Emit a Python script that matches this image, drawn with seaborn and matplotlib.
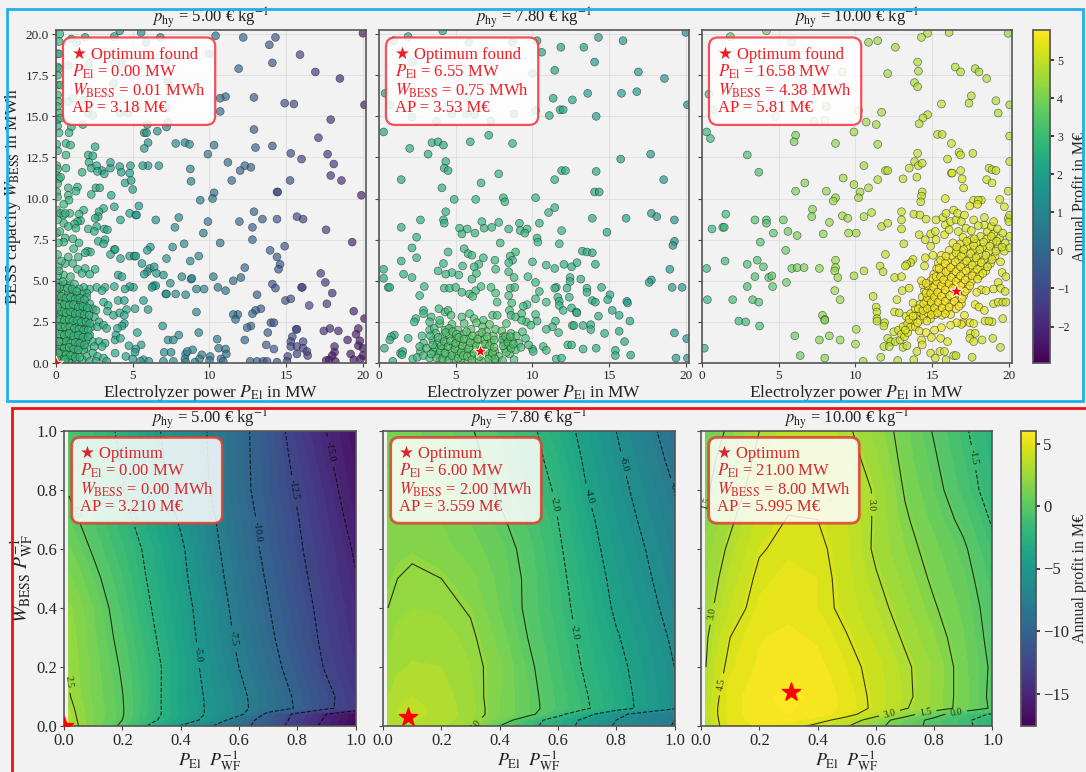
import matplotlib
matplotlib.use("Agg")
import matplotlib.pyplot as plt
import pandas as pd
import seaborn as sns
from matplotlib.cm import ScalarMappable
from matplotlib.colors import Normalize
from matplotlib.patches import Rectangle

# Titik sampel: (P_El, W_BESS, AP)
samples_5 = [
(10.4,19.9,.2),(12.2,19.8,-.2),(13.9,19.35,-.6),(14.3,19.8,-.6),(15.9,18.75,-1.2),(14.1,18.25,-.7),(11.9,17.9,-.1),(16.9,17.7,-1.5),(18.5,17.3,-2),(20,20.05,-2.5),
(11.05,16.2,0),(10.7,16.1,.1),(10.7,15.3,.1),(12.9,16.15,-.5),(14.9,15.8,-.9),(15.5,15.75,-1),(17.9,14.8,-1.8),(20.1,15.7,-2.4),(12.9,14.2,-.5),(17.1,13.7,-1.5),
(14.1,13.2,-.7),(13,13.1,-.4),(10.3,13.25,.3),(9.9,12.7,.4),(15.3,12.75,-1),(16,12.4,-1.2),(17.7,12.7,-1.7),(18.1,12.1,-1.8),(11.2,12.2,.1),(12.3,12,-.2),
(12.7,11.9,-.3),(12,11.7,-.1),(17.9,11.4,-1.7),(18.6,11.1,-1.9),(15.25,11.1,-.9),(11.45,11.1,0),(14.4,10.4,-.8),(14.45,10.4,-.8),(10.3,10.35,.4),(10.2,10,.4),(9.4,9.9,.6),(19.9,10.2,-2.3),
(12.9,9.2,-.3),(13.45,8.75,-.4),(14.4,8.75,-.7),(15.7,8.9,-1),(16.1,8.75,-1.1),(11.95,8.6,-.1),(9.9,8.6,.5),(12.8,8.25,-.3),(17.6,8.1,-1.6),(9.6,7.9,.6),
(12.8,7.5,-.2),(10.7,7.3,.3),(19.3,7.35,-2.1),(14.9,7.1,-.7),(13.95,6.85,-.5),(14.4,6.45,-.6),(14.6,6,-.7),(14.5,5.7,-.6),(12.3,5.8,-.1),(10.25,5.25,.5),
(12.05,5.2,0),(11.55,5,.1),(17.25,5.45,-1.5),(17.55,4.9,-1.6),(14.1,4.8,-.5),(14.3,4.55,-.6),(16,4.6,-1.1),(16.05,4.6,-1.1),(10.55,4.6,.4),(11.05,4.4,.2),(18,4.25,-1.8),(13.1,4.15,-.3),
(14.95,3.8,-.7),(15.3,3.9,-.8),(17.65,3.6,-1.6),(16.5,3.5,-1.2),(13.35,3.3,-.4),(13,3.2,-.3),(12.8,3,-.2),(19.4,3.15,-2.2),(11.85,2.95,0),(11.55,2.95,.1),(11.7,2.65,0),
(20.1,2.7,-2.5),(12.7,2.25,-.2),(12.45,2.15,-.1),(14,2.45,-.6),(14.2,2.45,-.6),(15.65,2.05,-1.1),(15.7,2.05,-1.1),(17.45,1.95,-1.8),(17.85,2.1,-1.9),(18.4,1.95,-2),(19.7,2.1,-2.4),
(19.55,1.75,-2.4),(19,1.4,-2.3),(13.8,1.85,-.5),(15.4,1.6,-1),(12.3,1.4,-.1),(10.5,1.45,.5),(13.7,1.1,-.5),(14.2,.85,-.6),(15.3,1.3,-1),(15.3,1,-1),
(16.1,1.3,-1.2),(15.7,1,-1.2),(16.1,.9,-1.3),(16.35,.7,-1.3),(15.7,.55,-1.3),(16.4,.45,-1.4),(18.15,1,-2.1),(18.15,.65,-2.2),(18,.45,-2.3),(17.8,.2,-2.4),
(18.2,.1,-2.5),(17.6,.15,-2.4),(19.2,.55,-2.4),(19.8,1.35,-2.5),(19.7,1.05,-2.5),(20,.9,-2.5),(20,.45,-2.6),(19.4,.2,-2.6),(19.85,.25,-2.6),(12.65,.1,-.3),(13.1,.1,-.4),(13.5,.1,-.6),
(13.75,.1,-.7),(14.4,.05,-.8),(15.1,.4,-1),(15.05,.1,-1.1),(10.6,.9,.4),(11.05,.85,.3),(11.1,.55,.2),(10.75,.25,.2),(10.9,.1,.1),(10.05,.4,.5),(10,.15,.4),
(8.75,11.8,1),(8.8,11.05,1),(8.4,13.4,1),(8.7,13.3,1),(7.8,13.35,1.2),(6.7,12,1.5),(6,12,1.6),(5.65,12,1.7),(6.6,14.1,1.4),(7.2,14.35,1.2),(7.3,14.65,1.2),(5.75,14,1.6),(5.9,14,1.6),(5.95,14.5,1.5),(6,13.4,1.6),(5.75,13.05,1.7),
(10,18.8,.3),(5.85,19.5,1.4),(6.8,19.8,1.1),(5.55,20.1,1.4),(4.15,20.2,1.8),(3.8,19.85,1.9),(1.9,19.8,2.3),(1,19.7,2.5),(.25,20,2.7),(.2,19.55,2.7),(1.35,19.5,2.4),
(2.15,18.2,2.3),(3.85,18.2,1.9),(4.3,18.2,1.8),(3.75,17,1.9),(7.3,17.1,1.1),(7.45,16.8,1.1),(7.2,18.45,1.1),(6.2,18.65,1.3),(.8,18.1,2.5),(2.1,15.2,2.3),(2.4,15.05,2.3),(4.15,15.2,1.9),(4.7,15.2,1.8),(.8,15.9,2.6),(1.1,16.1,2.5),(1.8,16,2.4),(5.25,15.5,1.7),(7.2,15.5,1.2),
(1,14.35,2.6),(1.75,14.5,2.4),(.85,14,2.6),(.65,13.35,2.7),(.95,13.25,2.6),(.65,12.65,2.7),(.65,11.85,2.7),(1.7,11.6,2.5),(2.55,13.15,2.3),(2.1,12.65,2.4),(2.4,12.6,2.3),(2.15,12.2,2.4),(2.3,11.85,2.4),(2.65,12,2.3),(3,11.7,2.2),(2.7,11.65,2.3),(3.15,11.5,2.2),(3.55,11.85,2.1),(3.55,12.2,2.1),(4.15,11.95,2),(4.25,11.6,2),(4.8,11.55,1.9),(4.85,12,1.9),(4.5,10.95,2),(4.9,11.1,1.9),(5,10.55,1.9),(5.4,9.55,1.8),(3.6,10.2,2.2),(2.3,10.25,2.5),(2.6,10.65,2.4),(2.85,10.65,2.3),(1.4,10.7,2.6),(1.3,10.45,2.6),(.8,10.65,2.7),(.8,10.2,2.7),(.85,9.9,2.7),(.5,9.65,2.8),
(.1,18.8,2.7),(.2,18.8,2.7),(.1,18,2.7),(.2,17.9,2.7),(.1,17.5,2.7),(.1,16.9,2.8),(.3,16.9,2.7),(.1,16.3,2.8),(.15,15.9,2.8),(.1,15.6,2.8),(.2,15.2,2.8),(.1,14.8,2.8),(.3,14.9,2.7),(.1,14.4,2.8),(.2,14,2.8),(.05,13.3,2.8),(.1,12.9,2.8),(.05,12,2.9),(.1,11.8,2.9),(.05,11.4,2.9),(.2,11.2,2.8),(.1,10.9,2.9),(.3,11.3,2.8),(.05,10.4,2.9),(.1,10.1,2.9),(.05,9.3,2.9),(.3,9.1,2.9),(.5,9,2.8),
(3.8,9.5,2.1),(3.1,9.4,2.3),(2.8,9.2,2.4),(1.8,9.3,2.6),(1.5,9.05,2.6),(.9,9.1,2.7),(.6,9.1,2.8),(4.8,9.1,2),(5.2,9,1.9),(5.25,9,1.9),(6.5,8.7,1.6),(8,8.85,1.2),(7.75,8.25,1.3),(4.2,8.7,2.1),(2.75,8.9,2.4),(2.55,8.8,2.4),(1.6,8.65,2.6),(1.4,8.6,2.6),(1.2,8.45,2.7),(.5,8.5,2.8),(.8,8.3,2.7),(1.3,8.2,2.7),(2.1,8.15,2.5),(2.65,8.3,2.4),(3.15,8.15,2.3),(3.35,8.1,2.2),(2.5,8,2.4),(.6,7.6,2.8),(1.1,7.55,2.7),(2.75,7.4,2.4),(3.2,7.5,2.3),(3.1,7.25,2.3),(1.5,7.3,2.6),(.5,7.35,2.8),
(3.8,6.9,2.2),(3.85,6.9,2.2),(7.6,7.05,1.4),(6.15,7.05,1.7),(5.95,6.85,1.8),(8.35,7.25,1.2),(7.2,6.35,1.5),(3.55,6.6,2.2),(4.2,6.35,2.1),(4.8,6.5,2),(5.1,6.5,1.9),(5.2,6.5,1.9),(5.6,6.05,1.8),(8.75,6.2,1.1),(9.3,6.5,1),(6.1,5.75,1.7),(6.4,5.85,1.6),(5.95,5.55,1.8),(5.75,5.4,1.8),(6.55,5.45,1.6),(7,5.35,1.5),(8.2,5.25,1.2),(8.8,5.1,1.1),(8.85,5.15,1.1),
(2.05,6.8,2.6),(2.25,6.75,2.5),(1.9,6.7,2.6),(1.15,6.95,2.7),(.8,6.45,2.8),(1.45,6.45,2.7),(.6,6.05,2.8),(1.1,6.05,2.7),(1.9,5.75,2.6),(2.55,5.7,2.5),(1.4,5.7,2.7),(1.7,5.45,2.6),(2.2,5.4,2.5),(.15,5.85,2.9),(.5,5.35,2.9),(.95,5.25,2.8),(4.05,5.35,2.1),(4.3,5.25,2.1),
(7.45,4.85,1.4),(6.35,4.7,1.7),(6.5,4.7,1.6),(6.25,4.6,1.7),(7.15,4.2,1.5),(7.2,4.2,1.5),(7.8,4.2,1.3),(8.45,4.15,1.2),(9.15,4.5,1),(9.65,4.5,.9),(5.05,4.6,2),(4.8,4.65,2),(4.5,4.5,2.1),(3.8,4.65,2.2),(3.2,4.6,2.4),(2.65,4.6,2.5),(3,4.4,2.4),(2.2,4.5,2.6),(1.8,4.6,2.6),(2,4.25,2.6),
(5.7,3.8,1.8),(5.15,3.3,2),(6,3.25,1.7),(4.05,3.8,2.2),(4.45,3.8,2.1),(3.1,3.7,2.4),(3.4,3.5,2.3),(3.35,3.15,2.3),(4.6,3.25,2.1),(9.15,3.1,1),(3.75,2.9,2.3),(4.15,3.05,2.2),(4.45,2.9,2.1),(4.45,2.4,2.1),(4.3,2.25,2.1),(4,2.1,2.2),(3.9,1.7,2.2),(3.85,1.4,2.2),(4.2,1.5,2.2),(6.95,2.25,1.5),(5.3,1.85,1.9),(8,1.7,1.2),(9.3,1.85,.9),(7.3,1.4,1.4),(7.65,1.4,1.3),(5.55,1.1,1.8),(4.75,1.05,2),(5.2,.85,1.9),(5.15,.65,1.9),(7.05,.65,1.4),(7.5,.65,1.3),(3.85,.6,2.2),(4.55,.4,2),(5,.25,1.9),(5.7,.2,1.7),(5.5,.1,1.8),(6.05,.1,1.6),(7,.1,1.3),(7.65,.1,1.2),(8.45,.55,1),(8.9,.8,.9),(8.55,.7,1),(8.4,.25,1),(8.45,.05,1),(9.5,.5,.7),(9.35,.25,.7),(9.05,.05,.8),
(.1,4.9,2.9),(.3,4.7,2.9),(.6,4.8,2.9),(.9,4.7,2.8),(1.2,4.8,2.8),(1.5,4.5,2.7),(.2,4.3,3),(.5,4.2,2.9),(.8,4.3,2.9),(1.1,4.2,2.8),(1.4,4.1,2.8),(1.7,4.2,2.7),(2,4,2.6),
(.1,3.9,3),(.4,3.8,3),(.7,3.7,2.9),(1,3.8,2.9),(1.3,3.6,2.8),(1.6,3.7,2.7),(1.9,3.5,2.7),(2.2,3.6,2.6),(2.4,3.3,2.6),(.2,3.4,3),(.5,3.3,3),(.8,3.2,2.9),(1.1,3.3,2.9),(1.4,3.1,2.8),(1.7,3.2,2.8),(2,3.1,2.7),(2.6,3.2,2.6),(.1,3,3),
(.3,2.9,3),(.6,2.8,3),(.9,2.9,2.9),(1.2,2.7,2.9),(1.5,2.8,2.8),(1.8,2.7,2.7),(2.1,2.6,2.7),(2.5,2.8,2.6),(2.8,2.5,2.5),(.15,2.5,3.1),(.45,2.4,3),(.75,2.5,3),(1.05,2.3,2.9),(1.35,2.4,2.8),(1.65,2.2,2.8),(1.95,2.3,2.7),(2.3,2.2,2.6),(2.7,2.2,2.5),(3.1,2.3,2.4),(3.3,2.1,2.4),
(.1,2,3.1),(.4,1.9,3),(.7,2,3),(1,1.8,2.9),(1.3,1.9,2.9),(1.6,1.7,2.8),(1.9,1.8,2.7),(2.2,1.7,2.7),(.2,1.5,3.1),(.5,1.4,3),(.8,1.6,3),(1.1,1.4,2.9),(1.4,1.5,2.8),(1.7,1.3,2.8),(2,1.4,2.7),(2.4,1.3,2.6),(2.8,1.3,2.5),(3.2,1.2,2.4),(.1,1.1,3.1),(.4,1,3.1),(.7,1.1,3),(1,.9,2.9),(1.3,1,2.9),(1.6,1,2.8),(2,.9,2.7),(2.5,1,2.6),(3,1,2.5),
(.2,.8,3.1),(.5,.7,3),(.8,.7,3),(1.1,.6,2.9),(1.4,.5,2.8),(1.8,.8,2.7),(2,.4,2.7),(2.4,.6,2.6),(2.7,.4,2.5),(3.1,.3,2.4),(.1,.5,3.1),(.4,.4,3.1),(.7,.3,3),(1,.2,2.9),(1.3,.1,2.8),(1.7,.2,2.7),(2.2,.1,2.6),(2.6,.1,2.5),(.15,.15,3.1),(.5,.1,3),(.85,.05,2.9),(3.3,.1,2.3),
(.25,4.6,3),(.45,4.95,2.9),(.75,4.55,2.9),(1.05,4.5,2.8),(1.35,4.35,2.8),(.05,4.1,3),(.35,4.05,3),(.65,3.95,2.9),(.95,4,2.9),(1.25,3.9,2.8),(1.55,3.95,2.7),(1.85,3.85,2.7),(.25,3.6,3),(.55,3.55,3),(.85,3.5,2.9),(1.15,3.55,2.9),(1.45,3.4,2.8),(1.75,3.45,2.7),(2.05,3.35,2.7),(.05,3.25,3.1),(.35,3.15,3),(.65,3.05,3),(.95,3.1,2.9),(1.25,3,2.9),(1.55,3,2.8),(1.85,2.95,2.7),(2.15,2.9,2.7),
(.25,2.65,3),(.55,2.6,3),(.85,2.65,2.9),(1.1,2.55,2.9),(1.4,2.6,2.8),(1.65,2.5,2.8),(1.95,2.5,2.7),(2.2,2.4,2.7),(.05,2.25,3.1),(.3,2.2,3),(.6,2.2,3),(.9,2.2,2.9),(1.2,2.1,2.9),(1.5,2.05,2.8),(1.8,2,2.7),(2.1,2,2.7),(.25,1.75,3),(.55,1.7,3),(.85,1.8,3),(1.15,1.65,2.9),(1.45,1.7,2.8),(1.75,1.55,2.8),(2.1,1.6,2.7),
(.05,1.3,3.1),(.35,1.25,3.1),(.65,1.3,3),(.95,1.2,2.9),(1.25,1.25,2.9),(1.55,1.2,2.8),(1.85,1.1,2.7),(.25,.95,3.1),(.55,.9,3),(.85,.95,3),(1.15,.85,2.9),(1.45,.8,2.8),(.05,.7,3.1),(.35,.55,3.1),(.65,.5,3),(.95,.45,2.9),(1.25,.35,2.9),(1.55,.35,2.8),(.3,.25,3.1),(.6,.2,3),(.05,.3,3.1),(.15,.6,3.1),(.2,1.3,3.1),(.1,3.4,3),(.05,4.6,3),(.1,5.3,2.9),(.2,5.6,2.9),(.35,6.2,2.9),(.1,6.6,2.9),(.15,7.3,2.9),(.05,7.9,2.9),(.25,8,2.9),(.1,8.7,2.9),
]

samples_78 = [
(1.9,19.85,2.2),(4.15,20.2,2.3),(14.3,19.8,2),(15.9,19.6,1.8),(20,20.1,1.2),(.95,19.6,2),(5.85,19.5,2.3),(8.7,19.5,2.3),(10.3,19.6,2.2),(10.6,18.9,2.2),(11.85,19.2,2.1),(13.35,19.2,2),(14.05,18.3,2),(2.2,18.3,2.2),(11.45,17.8,2.2),(16.9,17.7,1.7),(18.6,17.3,1.5),(10,17.6,2.3),
(.4,16.4,2),(5.75,16.2,2.4),(16.8,16.5,1.8),(13.6,16.4,2.1),(15.8,16.4,1.9),(11.35,16.1,2.3),(12.6,16,2.2),(20.1,15.7,1.3),(.7,15.7,2.1),(10.2,15.35,2.4),(11.8,15.4,2.3),(12,15.4,2.3),(11.1,15.05,2.3),(14.15,15,2),(2.15,14.95,2.3),(4.75,15.15,2.4),(5.7,15.15,2.4),(6.25,15.1,2.4),(8.8,15.15,2.4),(3.75,14.7,2.4),(7.3,14.7,2.4),
(.3,14.05,2.1),(7.15,13.85,2.5),(3.45,13.4,2.4),(3.85,13.45,2.4),(4.2,13.25,2.4),(5.95,13.45,2.5),(8.7,13.35,2.5),(2,13.05,2.4),(3.2,12.7,2.4),(17.7,12.7,1.7),(15.75,12.4,2),(4.35,12.25,2.5),(4.25,11.85,2.5),(4.5,11.7,2.5),(7.8,11.5,2.6),(11.9,11.7,2.5),(12.15,11.7,2.5),(14.15,11.65,2.2),(1.45,11.15,2.3),(11.45,11.15,2.5),(18.55,11.15,1.6),(6.65,10.95,2.6),(4.1,10.65,2.5),
(14.05,10.4,2.2),(14.35,10.4,2.2),(4.9,9.95,2.6),(6.3,9.95,2.7),(8.1,10.05,2.7),(8.2,9.8,2.7),(10.2,10.05,2.6),(11.45,9.45,2.6),(11.05,9.15,2.6),(4.35,9.2,2.6),(17.75,9.1,1.8),(18.1,8.9,1.7),(16.1,8.8,2),(13.9,8.8,2.3),(19.25,8.7,1.5),(2.7,8.7,2.5),(4.2,8.7,2.6),(4.25,8.5,2.6),(6.7,8.6,2.7),(7.8,8.55,2.7),(9.15,8.5,2.7),(10.45,8.5,2.6),
(1.45,8.25,2.4),(5.25,8.2,2.7),(5.75,8.15,2.7),(6.85,8.2,2.7),(7.35,8.25,2.7),(8.45,8.15,2.7),(9.2,8.05,2.7),(9.65,8.15,2.7),(9.5,7.9,2.7),(11.9,8.05,2.6),(14.85,7.95,2.2),(5.4,7.85,2.7),(6.25,7.9,2.7),(2.45,7.65,2.5),(10.3,7.6,2.7),(10.35,7.35,2.7),(19.25,7.4,1.6),(19.15,7.15,1.6),(11.75,7.25,2.6),(7.9,7.3,2.8),
(2.15,7,2.5),(5.55,6.95,2.8),(5.8,6.65,2.8),(6.05,6.55,2.8),(4.5,6.75,2.7),(8.9,6.75,2.8),(8.55,6.5,2.8),(13.25,6.8,2.4),(13.55,6.75,2.4),(13.9,6.7,2.3),(2.45,6.4,2.6),(6.8,6.4,2.8),(7.55,6.25,2.8),(8.7,6.25,2.8),(8.45,6.1,2.8),(1.45,6.2,2.4),(4.2,6.05,2.7),(5.45,5.9,2.8),(6.5,6,2.8),(6.2,5.85,2.8),(7.6,5.7,2.8),(10,6.15,2.8),(10.9,5.95,2.7),(11.45,5.75,2.6),(12.05,6,2.6),(12.55,5.85,2.5),(12.9,6.1,2.5),(14.1,6,2.3),
(.3,5.7,2.3),(3.85,5.6,2.7),(4.75,5.5,2.8),(4.35,5.4,2.7),(5.2,5.35,2.8),(1.6,5.4,2.5),(6.35,5.45,2.9),(6.05,5.1,2.9),(8.45,5.55,2.9),(8.8,5.2,2.9),(.3,5.15,2.3),(2.15,5.2,2.6),(9.7,5.25,2.8),(12.45,5.2,2.6),(12.45,4.95,2.6),(13.15,5.1,2.5),(18.95,5.7,1.7),(17.75,5.05,1.9),(17.6,4.9,1.9),(19.1,4.6,1.7),(19.75,4.6,1.6),(.6,4.6,2.4),(.7,4.6,2.4),(2.95,4.65,2.7),
(4.25,4.55,2.8),(4.6,4.55,2.8),(5,4.6,2.9),(5.4,4.3,2.9),(5.9,4.2,2.9),(6.3,4.4,3),(6.65,4.65,3),(6.1,4.05,3),(7.3,4.6,3),(7.6,4.25,3),(8.55,4.55,2.9),(8.85,4.6,2.9),(8.45,4.1,3),(10.2,4.9,2.8),(10.45,4.35,2.8),(10.2,3.9,2.8),(11.55,4.6,2.7),(11.45,4.55,2.7),(12.25,4.55,2.6),(13.55,4.55,2.5),(13.55,4.3,2.5),(14.5,4.6,2.3),(15.05,4.15,2.2),(14.9,3.85,2.3),(13.9,3.8,2.4),(14.1,3.7,2.4),(12.4,4,2.6),(11.65,4,2.7),(11.75,3.75,2.7),(10.9,3.7,2.8),(2.65,4.1,2.7),(7.7,3.7,3),(8.65,3.65,3),(9.65,3.55,2.9),(9.4,3.45,2.9),(16.15,3.75,2.1),(16.2,3.65,2),(11.75,3.5,2.7),(12,3.2,2.7),(12.55,3.35,2.6),(12.85,3.1,2.6),(12.9,3.05,2.5),(15.2,3.2,2.2),(15.65,2.9,2.2),(14.3,2.85,2.4),(16.35,2.55,2.1),
(10.2,2.95,2.9),(10.3,2.55,2.8),(11.5,2.55,2.8),(11.3,2.2,2.8),(10.9,2.05,2.8),(11.7,1.85,2.8),(12.6,2.28,2.7),(12.7,2.28,2.7),(13.3,2.28,2.6),(13.8,2.33,2.5),(13.8,2.03,2.5),(14.7,1.8,2.4),(15.65,1.93,2.3),(16,1.3,2.2),(12.3,1.1,2.8),(12.55,1.1,2.7),(13.3,.85,2.6),(14.15,.9,2.5),(15.4,.77,2.4),(15.4,.45,2.4),(16.4,.48,2.2),(11.55,.25,2.8),(11.9,.3,2.7),(10.7,1,2.9),(10.9,.77,2.9),(10,.85,2.9),(10.05,.7,2.9),(19.25,1.83,1.8),(20.05,1.48,1.6),(20.1,.3,1.6),(19.35,.3,1.7),
(2.4,2.7,2.7),(2.3,2.5,2.7),(2.9,3.2,2.8),(2.9,3,2.8),(3.4,2.8,2.9),(3.3,2.5,2.9),(3.9,3.3,3),(4.3,3.1,3),(4.5,3.2,3),(4.7,2.9,3.1),(5.4,2.8,3.1),(5.9,3,3.1),(6.2,2.7,3.2),(6.8,2.6,3.2),(7.4,2.9,3.1),(7.7,2.9,3.1),(8.5,3.2,3),(8.6,2.9,3),(8.9,2.8,3),(9.3,3,3),(9.6,2.5,3),(9.9,2.3,3),(9.3,2.6,3),
(1.9,1.5,2.7),(1,1.7,2.5),(.8,1.6,2.5),(.7,1.4,2.5),(.35,.9,2.4),(.9,.1,2.4),(1.4,.6,2.6),(1.55,.7,2.6),(1.5,.5,2.6),(2.2,.25,2.8),(2.5,.35,2.9),(2.7,.7,2.9),(2.9,1.2,3),(2.8,1.65,2.9),(3.3,2,3),(3.6,2.1,3),(3.95,2.4,3.1),(2.65,1,2.9),(2.9,.45,3),(3.1,.9,3),(3.3,.3,3.1),(3.5,1.4,3.1),(3.55,.7,3.1),
(3.7,1.8,3.2),(3.8,1.2,3.2),(3.9,.5,3.2),(4,.15,3.2),(4.1,1.6,3.2),(4.2,.9,3.3),(4.3,2,3.2),(4.4,1.25,3.3),(4.45,.4,3.3),(4.6,1.7,3.3),(4.7,.7,3.3),(4.75,2.35,3.2),(4.85,1.1,3.4),(4.9,.2,3.3),(5,1.5,3.4),(5.1,.55,3.4),(5.15,2,3.3),(5.25,.9,3.4),(5.3,1.3,3.4),(5.4,.3,3.4),(5.5,1.75,3.4),(5.55,2.4,3.3),(5.65,.7,3.5),(5.75,1.1,3.5),(5.8,.15,3.4),(5.9,1.5,3.5),(6,2.05,3.4),(6,.45,3.5),(6.15,.85,3.5),(6.25,1.25,3.5),(6.35,2.45,3.4),(6.4,.25,3.5),(6.5,1.7,3.5),(6.6,1.05,3.5),(6.75,2.2,3.4),(6.75,.55,3.5),(6.85,1.45,3.5),(6.95,.15,3.5),(7,1.9,3.5),(7.1,.85,3.5),(7.2,2.35,3.4),(7.3,1.25,3.5),(7.35,.4,3.5),(7.45,1.65,3.5),(7.55,.7,3.5),(7.6,2.05,3.4),(7.65,.1,3.4),(8,1.95,3.4),(8.1,1.6,3.4),(8.15,1.25,3.4),(8.2,.85,3.4),(8.3,2.4,3.3),(8.35,1.45,3.4),(8.45,1.05,3.4),(8.5,.55,3.3),(8.6,1.8,3.3),(8.7,1.3,3.3),(8.8,.2,3.2),(8.9,.8,3.2),(8.95,1.65,3.2),(9.1,1.2,3.2),(9.25,.95,3.1),(9.35,1.9,3.1),(9.55,1.5,3),(9.75,1.1,3),(7.8,.4,3.4),(8.05,.15,3.3),(4.55,2.1,3.2),(3.95,2.6,3.1),
(3.65,.95,3.2),(3.75,.3,3.2),(3.85,1.55,3.2),(4,.75,3.3),(4.05,1.05,3.3),(4.15,.25,3.3),(4.25,1.3,3.3),(4.3,.6,3.3),(4.35,1.85,3.3),(4.5,1,3.3),(4.55,.15,3.3),(4.65,1.35,3.4),(4.75,.45,3.4),(4.8,1.9,3.3),(4.95,.85,3.4),(5,1.2,3.4),(5.05,1.75,3.4),(5.15,.3,3.4),(5.2,1.55,3.4),(5.35,.65,3.4),(5.45,1.05,3.5),(5.5,.45,3.5),(5.55,1.45,3.4),(5.7,1.9,3.4),(5.75,.4,3.5),(5.85,.9,3.5),(5.95,1.25,3.5),(6.05,.2,3.5),(6.1,1.65,3.5),(6.2,.6,3.5),(6.35,1.05,3.5),(6.45,1.45,3.5),(6.55,.4,3.5),(6.65,.8,3.5),(6.7,1.85,3.5),(6.9,1.15,3.5),(6.95,.65,3.5),(7.05,1.6,3.5),(7.15,.25,3.5),(7.2,1.05,3.5),(7.4,.6,3.5),(7.5,1.4,3.5),(7.5,.95,3.5),(7.55,.25,3.4),(8.05,1.4,3.4),(8.1,1.05,3.4),(8.25,1.6,3.4),(8.3,.65,3.4),(8.4,1.25,3.4),(8.55,1.6,3.3),(8.6,.9,3.3),(8.75,1.15,3.3),(3.5,1.1,3.1),(3.4,.55,3.1),(3.35,1.65,3),
]

samples_10 = [
(1.85,19.85,3.6),(4.2,20.2,4),(14.7,20.05,4.7),(14.3,19.8,4.7),(16.1,20.1,4.7),(19.95,20.05,4.4),(10.85,19.5,4.4),(11.45,19.6,4.4),(12.6,19.2,4.5),(5.85,19.5,4.2),(14.05,18.3,4.7),(14.1,17.75,4.7),(12.1,17.6,4.5),(16.5,18,4.8),(16.85,17.7,4.8),(17.8,17.9,4.7),(18.05,17.7,4.7),(18.55,17.3,4.7),(13.85,17.05,4.7),(14.05,16.8,4.7),(9.15,17.7,4.3),(.45,16.35,3),
(17.55,16.25,4.8),(15.6,15.75,4.9),(17.4,15.8,4.8),(19.15,15.95,4.7),(20.05,15.7,4.5),(11.7,15.25,4.6),(19.3,15.2,4.7),(14.7,15.1,4.9),(14.4,14.9,4.9),(14.15,14.55,4.8),(10.7,14.65,4.5),(11.35,14.5,4.6),(8.1,15.6,4.2),(10.2,15.35,4.4),(.75,15.4,3.1),(4.8,15,4),(7.3,14.7,4.2),(8,14.75,4.3),(.3,14.05,2.8),(.55,13.65,2.9),(6.1,13.85,4),(6,13.45,4),(9.9,14.05,4.5),(8.7,13.35,4.3),(11.45,13.3,4.5),(15.35,13.9,4.9),(15.65,13.9,4.9),(16.25,13.35,5),(20.05,13.8,4.8),
(2.95,12.65,3.2),(14.05,12.75,4.9),(16.75,12.8,5.1),(16.85,12.65,5.1),(17.65,12.75,5),(16,12.4,5),(13.85,12.25,4.9),(14.1,12,4.9),(14.35,12.15,4.9),(13.5,11.85,4.9),(20.05,12.25,4.9),(10.55,12,4.6),(11.95,11.7,4.8),(12.1,11.7,4.8),(16.25,11.55,5.2),(16.3,11.55,5.2),(16.85,11.7,5.2),(18.7,11.85,5),(18.9,11.75,5),(19.15,11.7,5),(3.7,11.6,3.2),(9.2,11.25,4.5),(11.45,11.15,4.8),(13.1,11.2,4.9),(14,11.3,5),(16.95,11.2,5.2),(18.55,11.15,5.1),(18.9,10.95,5.1),(6.7,10.95,4.1),(9.9,10.85,4.6),(10.85,10.65,4.7),(17.05,10.65,5.2),(19.95,10.45,5),(6.1,10.45,4),(8.1,10.45,4.3),(10.3,10.4,4.6),(10.2,10.05,4.6),(14.35,10.4,5),(14.3,10.15,5),(14.25,9.8,5),(8.7,10.05,4.4),(8.55,9.85,4.4),(15.85,10,5.3),(17.7,9.9,5.3),(18.2,9.9,5.2),(18,9.9,5.2),(17.45,9.55,5.3),(17.95,9.65,5.3),(19.4,9.95,5.2),(19.7,9.5,5.2),
(7.2,9.35,4.1),(7.15,8.9,4.1),(1.55,9.05,3),(11.05,9.15,4.7),(13,9.2,5),(13.8,9.05,5),(14.2,9,5.1),(3.45,8.7,3.3),(4.2,8.7,3.4),(4.2,8.5,3.4),(5.3,8.7,3.7),(8.3,8.55,4.3),(9.15,8.95,4.5),(9.5,8.8,4.5),(10.55,8.9,4.7),(13,8.7,5),(14.6,8.75,5.1),(15.25,8.7,5.2),(.65,8.15,2.8),(1.35,8.25,2.9),(1.45,8.25,2.9),(5.6,8,3.7),(4.65,7.9,3.5),(6.2,7.75,3.9),(7.9,7.85,4.2),(9.55,7.9,4.5),(10.05,7.9,4.6),(11.7,8.3,4.8),(12.1,8.5,4.9),(13,8.15,5),(14.15,7.8,5.1),(3.8,7.35,3.3),(13.15,7.25,5),(5.45,6.85,3.7),(11.95,6.6,4.9),(13.75,6.3,5.2),(3.6,6.25,3.2),(1.5,6.2,2.9),(2.95,6,3.1),(8.7,6.25,4.4),(13.6,6.1,5.2),(13.35,6,5.2),(13.25,5.9,5.2),(14.5,5.9,5.3),(.3,5.75,2.8),(4,5.85,3.4),(5.85,5.75,3.8),(6.2,5.8,3.9),(6.65,5.8,4),(7.65,5.75,4.2),(8.7,5.8,4.4),(8.65,5.6,4.4),(8.85,5.2,4.4),(11.6,5.9,4.9),(10.55,5.6,4.7),(11.8,5.55,4.9),(9.9,5.3,4.6),(3.45,5.25,3.2),(4.35,5.2,3.4),(4.55,5.3,3.5),(12.55,5.2,5.1),(13,5.25,5.1),(5.5,4.9,3.7),(4.6,4.65,3.5),(2.95,4.65,3.1),(8.65,4.4,4.4),(13.05,4.4,5.1),(13.5,4.55,5.2),(.35,3.85,2.7),(2,3.85,3),(3.3,3.85,3.2),(3.7,3.7,3.3),(9,3.85,4.4),(11.15,4.05,4.9),(2.4,2.55,2.9),(2.85,2.5,3),(3.75,2.25,3.2),(7.85,2.9,4.2),(8,2.65,4.2),(8,2.6,4),(6.05,1.65,3.7),(7.65,1.4,4.1),(8.3,1.65,4.2),(9,1.4,4.4),(10.05,2.05,4.6),(10,1.15,4.5),(.15,.9,2.6),(6.4,.45,3.7),(8,.3,4.1),(10.5,.1,4.5),(11.65,.35,4.7),(11.85,1,4.8),(12.75,.15,4.8),(13.8,.2,4.9),
(11.35,3.4,5),(11.4,3.1,5),(11.4,2.7,5),(11.4,2.55,5),(11.9,2.45,5),(11.85,2.25,5),(12.55,3.1,5.2),(12.7,3.85,5.2),(12.85,3.05,5.2),
(12.1,1.5,5),(12.3,1.3,5),(12.6,1.3,5),(12.9,1.4,5.1),(12.5,1.9,5.2),(12.8,2,5.3),(13,1.75,5.3),(13.2,1.6,5.3),(13.4,1.85,5.3),(13.1,2.2,5.4),(13.4,2.4,5.4),(13.6,2.2,5.4),(13.75,2.6,5.4),(13.9,2.2,5.4),(13.3,2.85,5.4),(13.6,3,5.5),(13.95,2.9,5.5),(14.2,2.6,5.5),(14.25,3.1,5.5),(14.45,2.85,5.5),(13.9,3.3,5.5),(13.75,3.65,5.4),(14.2,3.55,5.5),(14.55,3.35,5.6),(14.7,3.05,5.6),(14.9,2.7,5.5),(14.35,4,5.5),(14.6,3.75,5.6),(14.85,3.5,5.6),(15,3.2,5.6),(15.2,2.95,5.6),(14.5,4.4,5.5),(14.8,4.1,5.6),(15.05,3.85,5.7),(15.3,3.55,5.7),(15.5,3.2,5.7),(15.65,2.9,5.6),(14.4,4.75,5.5),(14.75,4.65,5.6),(15,4.4,5.7),(15.25,4.15,5.7),(15.5,3.85,5.7),(15.75,3.55,5.7),(15.95,3.2,5.7),(16.2,2.95,5.6),(14.3,5,5.5),(14.9,5,5.6),(15.2,4.75,5.7),(15.5,4.5,5.7),(15.75,4.2,5.8),(16,3.9,5.8),(16.25,3.6,5.7),(16.55,3.3,5.7),(15.1,5.4,5.6),(15.4,5.1,5.7),(15.7,4.9,5.7),(16,4.65,5.8),(16.3,4.2,5.8),(16.6,3.95,5.8),(16.9,3.6,5.7),(15.3,5.75,5.6),(15.6,5.5,5.7),(15.9,5.25,5.7),(16.2,5,5.8),(16.5,4.75,5.8),(16.8,4.45,5.8),(17.05,4.1,5.7),(15.4,6.1,5.6),(15.75,5.9,5.7),(16.05,5.65,5.7),(16.4,5.4,5.7),(16.7,5.15,5.8),(17,4.85,5.7),(17.3,4.5,5.7),(16,6.2,5.7),(16.35,5.95,5.7),(16.65,5.7,5.7),(17,5.5,5.7),(17.3,5.2,5.7),(17.55,4.95,5.6),(15.6,6.55,5.6),(16.3,6.5,5.6),(16.7,6.3,5.6),(17.05,6,5.6),(17.4,5.75,5.6),(17.75,5.5,5.6),(18.1,5.3,5.5),(16.1,6.85,5.6),(16.7,6.85,5.5),(17.1,6.6,5.5),(17.45,6.35,5.5),(17.8,6.1,5.5),(18.15,5.85,5.5),(18.5,5.6,5.4),(16.35,7.3,5.5),(16.85,7.25,5.4),(17.3,7.1,5.4),(17.7,6.85,5.4),(18.05,6.6,5.4),(18.4,6.3,5.4),(18.8,6.05,5.3),(17,7.65,5.4),(17.5,7.5,5.4),(17.9,7.3,5.4),(18.3,7.05,5.3),(18.7,6.8,5.3),(19.1,6.5,5.3),(19.45,6.15,5.2),(18.15,7.7,5.3),(18.55,7.55,5.3),(18.95,7.3,5.3),(19.3,7.05,5.2),(19.7,6.8,5.2),(18.6,8,5.3),(19,7.85,5.2),(19.4,7.6,5.2),(19.75,7.3,5.2),(20.05,7,5.1),(18.4,8.4,5.2),(18.85,8.3,5.2),(19.25,8.15,5.2),(19.6,7.9,5.1),(20.05,7.7,5.1),(19.95,8.8,5.1),(20,8.6,5.1),(20.05,9,5),(19,8.6,5.2),
(14.55,6.4,5.3),(14.9,7.1,5.3),(15.05,6.55,5.4),(14.55,7.5,5.2),(14.9,7.85,5.2),(15.25,7.5,5.3),(15.2,8,5.2),(15.8,7.8,5.3),(15.85,8.4,5.3),(16.1,8.1,5.3),(16.2,8.6,5.2),(15.7,8.85,5.2),(16.55,8.7,5.2),(16.9,8.6,5.2),(16.7,8,5.3),(17.2,8.2,5.3),(17.7,8.7,5.2),(18,8.35,5.2),(17.55,8.05,5.3),(15.9,9.1,5.2),(16.4,9.3,5.2),(16.65,9.1,5.2),(17.1,9,5.2),(18.4,8.85,5.2),(19.55,5.5,5.2),(19.8,5.25,5.1),(19.3,4.9,5.3),(18.2,4.45,5.4),(18.5,4.4,5.4),(19,4.5,5.3),(19.45,4.55,5.2),(19.75,4.35,5.1),(17.9,4.3,5.5),(17.8,3.55,5.5),(18.05,3.4,5.4),(19,3.6,5.2),(19.3,3.7,5.2),(19.6,3.7,5.2),(19.8,3.7,5.1),(18.4,3.2,5.4),(18.45,2.55,5.3),(18.9,2.5,5.2),(18.7,2.55,5.2),(19.6,2.7,5.1),(17.1,2.9,5.5),(17,2.45,5.5),(16.9,2.35,5.5),(17.45,2.45,5.4),(17.7,2.4,5.4),(16.6,2.45,5.5),(16.2,2.3,5.5),(15.6,2.15,5.6),(15.15,2,5.5),(14.6,1.85,5.5),(14.15,1.95,5.4),(14.3,1.4,5.3),(14.35,1.1,5.3),(14.95,1.55,5.4),(15.55,1.5,5.4),(16,1.3,5.4),(17.5,1.8,5.3),(17.8,1.8,5.2),(17.45,1.5,5.2),(17.7,1.3,5.2),(18.25,1.4,5.1),(18.95,1.5,5),(19.45,.95,4.9),(14.9,.6,5.1),(15.2,.3,5.1),(15.5,.7,5.1),(15.8,.7,5.1),(16.4,.45,5),(16.55,.45,5),(15.9,.2,5),(17.6,.35,4.9),(13.1,.95,5),(13.35,1.05,5),(12.2,1,4.9),(14,.7,5),
(13.25,2,5.3),(13.5,2.65,5.4),(13.75,2.85,5.5),(14.05,2.45,5.5),(14.1,3.3,5.5),(14.4,3.2,5.6),(14.65,2.55,5.5),(14.45,3.6,5.6),(14.7,3.3,5.6),(14.95,2.95,5.6),(14.7,3.95,5.6),(14.95,3.7,5.7),(15.15,3.35,5.7),(15.35,3.05,5.6),(14.6,4.25,5.6),(14.9,4.25,5.6),(15.15,4,5.7),(15.4,3.7,5.7),(15.65,3.35,5.7),(15.85,3,5.6),(14.6,4.85,5.6),(15.1,4.6,5.7),(15.35,4.3,5.7),(15.6,4.05,5.8),(15.85,3.75,5.8),(16.1,3.4,5.7),(15.05,5.15,5.7),(15.3,4.95,5.7),(15.6,4.7,5.8),(15.85,4.45,5.8),(16.15,4.1,5.8),(16.45,3.75,5.8),(16.75,3.45,5.7),(15.25,5.25,5.7),(15.55,5.25,5.7),(15.75,5.05,5.8),(16.1,4.85,5.8),(16.35,4.55,5.8),(16.65,4.25,5.8),(16.95,3.9,5.7),(15.45,5.75,5.7),(15.9,5.55,5.7),(16.25,5.2,5.8),(16.55,4.95,5.8),(16.85,4.7,5.8),(17.15,4.35,5.7),(15.55,6.25,5.6),(15.85,6.05,5.7),(16.2,5.8,5.7),(16.55,5.55,5.7),(16.85,5.3,5.7),(17.15,5.05,5.7),(17.45,4.7,5.6),(15.9,6.5,5.6),(16.5,6.15,5.6),(16.85,5.85,5.6),(17.2,5.6,5.6),(17.6,5.3,5.6),(17.95,5.1,5.5),(16.55,6.7,5.5),(16.9,6.5,5.5),(17.25,6.2,5.5),(17.6,5.95,5.5),(17.95,5.7,5.5),(18.3,5.45,5.4),(16.6,7.05,5.5),(17.05,6.9,5.4),(17.5,6.65,5.4),(17.85,6.4,5.4),(18.2,6.1,5.4),(18.6,5.85,5.3),(17.25,7.4,5.4),(17.7,7.15,5.4),(18.1,6.9,5.3),(18.5,6.55,5.3),(18.9,6.3,5.3),(17.75,7.55,5.3),(18.35,7.35,5.3),(18.75,7.1,5.3),(19.15,6.8,5.2),(18.85,7.7,5.3),(19.2,7.4,5.2),(19.55,7.05,5.2),
]

profit_x = [0.017, 0.05, 0.1, 0.2, 0.3, 0.4, 0.5, 0.6, 0.7, 0.8, 0.9, 1.0]
profit_y = [0, 0.02, 0.04, 0.06, 0.1, 0.2, 0.3, 0.4, 0.5, 0.6, 0.7, 0.8, 0.9, 1.0]

profit_5 = [
    [3.2, 2.5, 1.4, -.3, -2.9, -5.1, -7.3, -9.2, -11.2, -13.5, -15.6, -17.5],
    [3.1, 2.4, 1.4, 0, -2.1, -4, -5.6, -8.9, -10.9, -13.2, -15.3, -17.2],
    [3, 2.3, 1.4, .1, -1.9, -3.7, -5.3, -6.9, -10.6, -13, -15, -17],
    [2.9, 2.2, 1.4, .1, -1.9, -3.7, -5.3, -6.9, -8.7, -10.2, -12.1, -13.6],
    [2.6, 2, 1.3, .05, -1.8, -3.9, -5.3, -7, -8.7, -10.3, -12, -13.7],
    [2.4, 1.9, 1.2, -.15, -1.85, -3.75, -5.7, -7.5, -9.2, -10.9, -12.7, -14.1],
    [2.2, 1.8, 1.05, -.45, -2.2, -4, -5.9, -7.9, -9.6, -11.3, -13, -14.4],
    [2, 1.65, .9, -.75, -2.5, -4.2, -6.1, -8.2, -9.9, -11.6, -13.2, -14.6],
    [1.5, 1.1, .4, -1.1, -2.8, -4.5, -6.5, -8.5, -10.2, -11.9, -13.5, -14.9],
    [1, .55, -.15, -1.5, -3, -4.7, -6.8, -8.8, -10.5, -12.2, -13.7, -15.2],
    [.4, 0, -.6, -1.95, -3.55, -5.2, -7.1, -9, -10.7, -12.4, -14, -15.6],
    [-.1, -.5, -1.1, -2.4, -4.1, -5.8, -7.5, -9.3, -11, -12.7, -14.3, -16],
    [-.35, -.8, -1.35, -2.6, -4.3, -5.95, -7.6, -9.3, -11.1, -13, -14.7, -16.2],
    [-.6, -1.1, -1.6, -2.8, -4.5, -6.1, -7.65, -9.3, -11.2, -13.4, -15, -16.5],
]
profit_78 = [
    [3, 3.2, 3.3, 3, 2.4, 0, -1.5, -3, -4.7, -6.2, -7.2, -8.1],
    [3.05, 3.3, 3.45, 3.2, 2.5, 1, -1.2, -2.8, -4.5, -6, -7, -8],
    [3.1, 3.4, 3.5, 3.3, 2.6, 1.4, .45, -1.5, -3.5, -5.5, -6.8, -7.8],
    [3.1, 3.4, 3.5, 3.3, 2.6, 1.4, .45, -.7, -1.85, -3.2, -4.5, -5.8],
    [2.9, 3.2, 3.4, 3.2, 2.5, 1.4, .4, -.75, -1.95, -3.25, -4.55, -5.85],
    [2.5, 2.8, 2.95, 2.9, 2.4, 1.5, .25, -1, -2.25, -3.5, -4.75, -6],
    [2.25, 2.55, 2.7, 2.65, 2.2, 1.2, -.05, -1.2, -2.5, -3.85, -5, -6.3],
    [2, 2.25, 2.4, 2.3, 1.9, .85, -.25, -1.4, -2.75, -4.25, -5.35, -6.7],
    [1.85, 2, 2.15, 2, 1.55, .75, -.25, -1.55, -3, -4.5, -5.7, -7],
    [1.7, 1.8, 1.85, 1.6, 1.15, .55, -.4, -1.75, -3.3, -4.8, -6, -7.3],
    [1.6, 1.65, 1.6, 1.35, .85, .2, -.75, -2, -3.6, -5.1, -6.35, -7.65],
    [1.5, 1.5, 1.4, 1.1, .6, -.2, -1.2, -2.2, -4, -5.4, -6.7, -8],
    [1.35, 1.3, 1.2, .85, .35, -.45, -1.35, -2.6, -4.3, -5.7, -7.05, -8.45],
    [1.2, 1.15, 1, .6, .1, -.7, -1.55, -3.1, -4.6, -6, -7.4, -8.9],
]
profit_10 = [
    [3.3, 4.3, 5, 5.5, 5.2, 4.1, 3.1, 1.9, .65, -.4, -1.2, -2.1],
    [3.35, 4.35, 5.05, 5.7, 5.6, 5, 3.9, 2.2, .8, -.4, -1.3, -2],
    [3.4, 4.4, 5.1, 5.8, 5.9, 5.7, 5, 3.6, 2.1, .6, -1, -1.6],
    [3.4, 4.4, 5.1, 5.8, 5.95, 5.75, 5.2, 4.25, 3.1, 2.2, 1.1, -.2],
    [3.3, 4.3, 5.1, 5.8, 6, 5.8, 5.2, 4.2, 3.3, 2.2, 1.15, -.3],
    [3, 4, 4.8, 5.5, 5.8, 5.6, 4.9, 4.1, 3.2, 2.3, 1.1, -.2],
    [2.85, 3.6, 4.5, 5.35, 5.55, 5.3, 4.55, 3.75, 2.85, 1.95, .95, -.4],
    [2.7, 3.1, 3.9, 5, 5.2, 4.9, 4.2, 3.4, 2.5, 1.6, .75, -.55],
    [2.4, 2.85, 3.55, 4.75, 5.05, 4.9, 4.1, 3.1, 2.2, 1.3, .5, -.85],
    [2.1, 2.6, 3.2, 4.4, 4.8, 4.75, 4, 2.8, 1.9, 1.05, .2, -1.2],
    [1.7, 2.2, 2.8, 4.05, 4.55, 4.5, 3.9, 2.85, 1.65, .7, -.3, -1.65],
    [1.3, 1.8, 2.4, 3.6, 4.2, 4.3, 3.8, 2.85, 1.4, .4, -.8, -2.1],
    [1.05, 1.5, 2.05, 3.3, 3.9, 4, 3.5, 2.5, 1.2, .15, -1.05, -2.25],
    [.8, 1.2, 1.7, 3, 3.6, 3.7, 3.2, 2.2, 1.05, -.1, -1.3, -2.4],
]

price_titles = [r"$p_{\mathrm{hy}}$ = 5.00 € kg$^{-1}$", r"$p_{\mathrm{hy}}$ = 7.80 € kg$^{-1}$", r"$p_{\mathrm{hy}}$ = 10.00 € kg$^{-1}$"]
found_pel = [0.00, 6.55, 16.58]
found_wbess = [0.01, 0.75, 4.38]
found_ap = [3.18, 3.53, 5.81]
best_pel = [0.00, 6.00, 21.00]
best_wbess = [0.00, 2.00, 8.00]
best_ap = [3.210, 3.559, 5.995]
star_top = [(0.0, 0.01), (6.55, 0.75), (16.58, 4.38)]
star_bottom = [(0.0, 0.0), (0.085, 0.03), (0.31, 0.115)]

contour_levels = [
    [-15, -12.5, -10, -7.5, -5, -2.5, 0, 2.5],
    [-8, -6, -4, -2, 0, 2],
    [-1.5, 0, 1.5, 3, 4.5],
]
label_spots = [
    [(.02, .15), (.055, .73), (.245, .72), (.45, .24), (.59, .3), (.665, .66), (.79, .8), (.91, .93)],
    [(.27, .01), (.37, .84), (.66, .32), (.58, .75), (.705, .78), (.83, .89), (.98, .79)],
    [(.04, .38), (.075, .14), (.035, .75), (.587, .75), (.935, .91), (.647, .043), (.77, .05), (.875, .05)],
]

BG = "#f2f2f2"
W, H = 1086, 772

sns.set_theme(style="ticks")
plt.rcParams["font.family"] = ["Liberation Serif", "DejaVu Sans"]
plt.rcParams["mathtext.fontset"] = "stix"
plt.rcParams["axes.edgecolor"] = "#555555"
plt.rcParams["axes.unicode_minus"] = True

fig = plt.figure(figsize=(W / 100, H / 100), dpi=100, facecolor=BG)


def px_axes(left, top, right, bottom):
    return fig.add_axes([left / W, 1 - bottom / H, (right - left) / W, (bottom - top) / H], facecolor=BG)


# Baris atas: hasil optimasi
top_left = [56, 379, 702]
norm_top = Normalize(-2.96, 5.8)
for i, rows in enumerate([samples_5, samples_78, samples_10]):
    ax = px_axes(top_left[i], 30, top_left[i] + 310, 363)
    df = pd.DataFrame(rows, columns=["pel", "wbess", "ap"])
    sns.scatterplot(data=df, x="pel", y="wbess", hue="ap", palette="viridis", hue_norm=norm_top,
                    s=32, alpha=0.68, edgecolor="#222222", linewidth=0.45, legend=False, ax=ax)
    ax.scatter(*star_top[i], marker="*", s=110, color="red", edgecolor="white", linewidth=0.7, zorder=5)
    ax.set_xlim(0, 20.2)
    ax.set_ylim(0, 20.25)
    ax.set_xticks([0, 5, 10, 15, 20])
    ax.set_yticks([0, 2.5, 5, 7.5, 10, 12.5, 15, 17.5, 20])
    ax.grid(True, color="#dddddd", linewidth=0.8, alpha=0.8)
    ax.set_axisbelow(True)
    ax.tick_params(labelsize=9.5, length=3, width=0.8, color="#444444", pad=2)
    ax.set_xlabel(r"Electrolyzer power $P_{\mathrm{El}}$ in MW", fontsize=12.5, labelpad=1, color="#222222")
    if i == 0:
        ax.set_yticklabels(["0.0", "2.5", "5.0", "7.5", "10.0", "12.5", "15.0", "17.5", "20.0"])
        ax.set_ylabel(r"BESS capacity $W_{\mathrm{BESS}}$ in MWh", fontsize=12.5, color="#222222")
        ax.yaxis.set_label_coords(-0.106, 0.5)
    else:
        ax.set_yticklabels([])
        ax.set_ylabel("")
    ax.set_title(price_titles[i], fontsize=12, pad=0.5, color="#222222")
    for s in ax.spines.values():
        s.set_linewidth(1.2)
    txt = ("★ Optimum found\n" + rf"$P_{{\mathrm{{El}}}}$ = {found_pel[i]:.2f} MW" + "\n"
           + rf"$W_{{\mathrm{{BESS}}}}$ = {found_wbess[i]:.2f} MWh" + "\n" + f"AP = {found_ap[i]:.2f} M€")
    ax.text(0.052, 0.95, txt, transform=ax.transAxes, va="top", ha="left", fontsize=12, color="#f01c24",
            linespacing=1.0, zorder=10,
            bbox=dict(boxstyle="round,pad=0.55", fc="white", ec="#f5323c", lw=1.6, alpha=0.85))

cax = px_axes(1033, 30, 1050, 363)
cb = fig.colorbar(ScalarMappable(norm_top, "viridis"), cax=cax)
cb.set_ticks(list(range(-2, 6)))
cb.ax.tick_params(labelsize=8.5, length=3, pad=2)
cb.set_label("Annual Profit in M€", fontsize=11.5, labelpad=2)

# Baris bawah: permukaan profit
bottom_left = [64, 383, 701]
norm_bottom = Normalize(-17.6, 6)
fill_levels = [-17.6 + k * 0.5 for k in range(49)]
for i, z in enumerate([profit_5, profit_78, profit_10]):
    ax = px_axes(bottom_left[i], 431, bottom_left[i] + 291.5, 726)
    ax.contourf(profit_x, profit_y, z, levels=fill_levels, cmap="viridis", norm=norm_bottom)
    cs = ax.contour(profit_x, profit_y, z, levels=contour_levels[i], colors="black", linewidths=0.8, alpha=0.75)
    ax.clabel(cs, fmt="%.1f", fontsize=7, manual=label_spots[i], inline=True)
    ax.scatter(*star_bottom[i], marker="*", s=190, color="red", zorder=5)
    ax.set_xlim(0, 1)
    ax.set_ylim(0, 1)
    ax.set_xticks([0, .2, .4, .6, .8, 1])
    ax.set_yticks([0, .2, .4, .6, .8, 1])
    ax.tick_params(labelsize=12, length=3, width=0.8, color="#444444", pad=2)
    ax.set_xlabel(r"$P_{\mathrm{El}}\ \ P_{\mathrm{WF}}^{-1}$", fontsize=13, labelpad=0, color="#222222")
    if i == 0:
        ax.set_ylabel(r"$W_{\mathrm{BESS}}\ P_{\mathrm{WF}}^{-1}$", fontsize=14, color="#222222")
        ax.yaxis.set_label_coords(-0.096, 0.5)
    else:
        ax.set_yticklabels([])
    ax.set_title(price_titles[i], fontsize=12, pad=0.5, color="#222222")
    for s in ax.spines.values():
        s.set_linewidth(1.2)
    txt = ("★ Optimum\n" + rf"$P_{{\mathrm{{El}}}}$ = {best_pel[i]:.2f} MW" + "\n"
           + rf"$W_{{\mathrm{{BESS}}}}$ = {best_wbess[i]:.2f} MWh" + "\n" + f"AP = {best_ap[i]:.3f} M€")
    ax.text(0.055, 0.95, txt, transform=ax.transAxes, va="top", ha="left", fontsize=12, color="#d8262c",
            linespacing=1.0, zorder=10,
            bbox=dict(boxstyle="round,pad=0.5", fc="white", ec="#d8402f", lw=2, alpha=0.85))

cax = px_axes(1021, 431, 1036, 726)
cb = fig.colorbar(ScalarMappable(norm_bottom, "viridis"), cax=cax)
cb.set_ticks([-15, -10, -5, 0, 5])
cb.ax.tick_params(labelsize=12, length=3, pad=2)
cb.set_label("Annual profit in M€", fontsize=11.5, labelpad=2)

# Bingkai biru dan merah
fig.add_artist(Rectangle((7 / W, 1 - 401 / H), 1076 / W, 392 / H, transform=fig.transFigure,
                         fill=False, ec="#1fb0e8", lw=2))
fig.add_artist(Rectangle((12 / W, 1 - 790 / H), 1090 / W, 382 / H, transform=fig.transFigure,
                         fill=False, ec="#ee1111", lw=2))

fig.savefig("out.png", dpi=100, facecolor=BG)
